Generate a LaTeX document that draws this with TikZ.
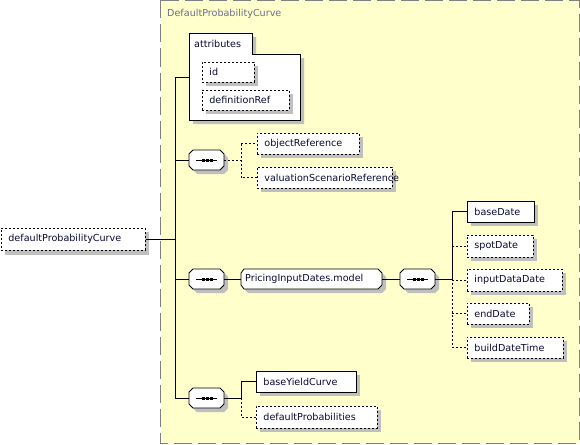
\documentclass[tikz,border=0pt]{standalone}
\usepackage{fontspec}
\setmainfont{DejaVu Sans}
\begin{document}
\begin{tikzpicture}[x=1pt,y=-1pt,
  every node/.style={font=\fontsize{9.6pt}{11pt}\selectfont, inner sep=0pt, text={rgb,255:red,10;green,10;blue,50}},
  elem/.style={draw=black, fill=white, line width=0.8pt, minimum height=21pt, anchor=west, inner xsep=7pt, align=left, text width=#1-14pt},
  opt/.style={elem=#1, dash pattern=on 2pt off 2pt},
  shad/.style={fill=black!25},
  conn/.style={line width=0.8pt},
  dconn/.style={line width=0.8pt, dash pattern=on 2pt off 2pt},
]
\useasboundingbox (0,0) rectangle (580,444);
% outer container
\draw[fill={rgb,255:red,255;green,255;blue,204}, draw=black!50, line width=1pt, dash pattern=on 18pt off 6pt] (160.5,0.5) rectangle (579,443);
\node[anchor=west, text={rgb,255:red,110;green,110;blue,140}] (title) at (167,14) {DefaultProbabilityCurve};

% attributes folder
\fill[shad] (193,37) -- (256,37) -- (256,58) -- (304,58) -- (304,124) -- (193,124) -- cycle;
\draw[fill=white, line width=0.8pt] (189,33) -- (252,33) -- (252,54) -- (300,54) -- (300,120) -- (189,120) -- cycle;
\node[anchor=west] (attrlbl) at (194,44) {attributes};
\coordinate (attr) at (189,77);

% attribute children
\fill[shad] (206,66) rectangle (258,86);
\node[opt=52pt, minimum height=20pt] (id) at (202,72) {id};
\fill[shad] (206,94) rectangle (293,114);
\node[opt=87pt, minimum height=20pt] (defref) at (202,100) {definitionRef};

% root
\fill[shad] (5,232) rectangle (149,255);
\node[opt=144pt, minimum height=22pt] (root) at (1,239) {defaultProbabilityCurve};

% compositors
\tikzset{seq/.pic={
  \fill[black!25] (4+4,-10+4) -- (31+4,-10+4) -- (35+4,-6+4) -- (35+4,6+4) -- (31+4,10+4) -- (4+4,10+4) -- (0+4,6+4) -- (0+4,-6+4) -- cycle;
  \draw[fill=white, line width=0.8pt] (4,-10) -- (31,-10) -- (35,-6) -- (35,6) -- (31,10) -- (4,10) -- (0,6) -- (0,-6) -- cycle;
  \draw[line width=0.8pt] (7,0) -- (28,0);
  \fill (12.5,-1.5) rectangle (15.5,1.5);
  \fill (16.5,-1.5) rectangle (19.5,1.5);
  \fill (20.5,-1.5) rectangle (23.5,1.5);
}}
\coordinate (s1) at (189,160);
\coordinate (s2) at (189,279);
\coordinate (s3) at (400,279);
\coordinate (s4) at (189,398);
\pic at (s1) {seq};
\pic at (s2) {seq};
\pic at (s3) {seq};
\pic at (s4) {seq};
\coordinate (s1r) at (224,160);
\coordinate (s2r) at (224,279);
\coordinate (s3r) at (435,279);
\coordinate (s4r) at (224,398);

% seq1 children
\fill[shad] (261,137) rectangle (363,158);
\node[opt=102pt] (objref) at (257,143.5) {objectReference};
\fill[shad] (261,171) rectangle (396,192);
\node[opt=135pt] (valref) at (257,177.5) {valuationScenarioReference};

% model group
\fill[black!25] (248,273) -- (382,273) -- (386,277) -- (386,289) -- (382,293) -- (248,293) -- (244,289) -- (244,277) -- cycle;
\draw[fill=white, line width=0.8pt] (244,269) -- (378,269) -- (382,273) -- (382,285) -- (378,289) -- (244,289) -- (241,285) -- (241,273) -- cycle;
\node[anchor=west] (model) at (245,279) {PricingInputDates.model};
\coordinate (modelL) at (241,279);
\coordinate (modelR) at (382,279);

% seq3 children
\fill[shad] (471,205) rectangle (538,226);
\node[elem=67pt] (base) at (467,211.5) {baseDate};
\fill[shad] (471,239) rectangle (537,261);
\node[opt=66pt, minimum height=22pt] (spot) at (467,246) {spotDate};
\fill[shad] (471,273) rectangle (566,295);
\node[opt=95pt, minimum height=22pt] (input) at (467,280) {inputDataDate};
\fill[shad] (471,307) rectangle (533,328);
\node[opt=62pt] (endd) at (467,313.5) {endDate};
\fill[shad] (471,341) rectangle (567,362);
\node[opt=96pt] (build) at (467,347.5) {buildDateTime};

% seq4 children
\fill[shad] (260,375) rectangle (360,396);
\node[elem=100pt] (byc) at (256,381.5) {baseYieldCurve};
\fill[shad] (260,410) rectangle (381,432);
\node[opt=121pt, minimum height=22pt] (dprob) at (256,417) {defaultProbabilities};

% connectors
\draw[conn] (root.east) -- (175,239);
\draw[conn] (attr) -- (175,77) -- (175,398) -- (s4);
\draw[conn] (175,160) -- (s1);
\draw[conn] (175,279) -- (s2);
\draw[dconn] (s1r) -- (241,160);
\draw[dconn] (241,143.5) -- (objref.west);
\draw[dconn] (241,143.5) -- (241,177.5) -- (valref.west);
\draw[conn] (s2r) -- (modelL);
\draw[conn] (modelR) -- (s3);
\draw[conn] (s3r) -- (452,279);
\draw[conn] (452,279) -- (452,211.5) -- (base.west);
\draw[dconn] (452,246) -- (spot.west);
\draw[dconn] (452,280) -- (input.west);
\draw[dconn] (452,279) -- (452,347.5) -- (build.west);
\draw[dconn] (452,313.5) -- (endd.west);
\draw[conn] (s4r) -- (241,398) -- (241,381.5) -- (byc.west);
\draw[dconn] (241,398) -- (241,417) -- (dprob.west);
\end{tikzpicture}
\end{document}
